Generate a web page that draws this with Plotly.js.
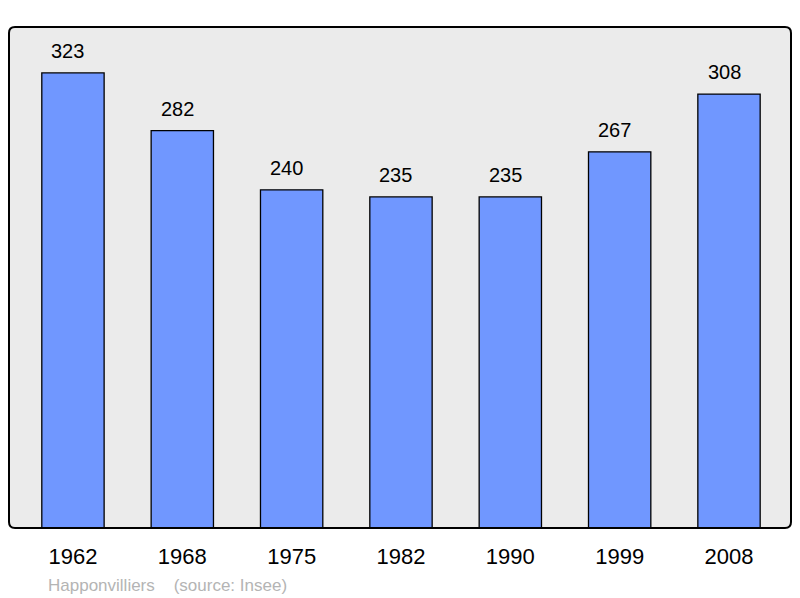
<!DOCTYPE html>
<html>
<head>
<meta charset="utf-8">
<script src="https://cdn.plot.ly/plotly-3.0.1.min.js"></script>
<style>
html,body{margin:0;padding:0;background:#ffffff;}
#chart{width:800px;height:598px;}
</style>
</head>
<body>
<div id="chart"></div>
<script>
var years = ["1962", "1968", "1975", "1982", "1990", "1999", "2008"];
var population = [323, 282, 240, 235, 235, 267, 308];
var caption = "Happonvilliers&nbsp;&nbsp;&nbsp;&nbsp;(source: Insee)";

var W = 800, H = 598;
var m = {l: 9, r: 9, t: 27, b: 70};
var pw = W - m.l - m.r, ph = H - m.t - m.b;
var rad = 6;
var rx = rad / pw, ry = rad / ph;
var roundRect = "M " + rx + " 0 L " + (1 - rx) + " 0 Q 1 0 1 " + ry +
  " L 1 " + (1 - ry) + " Q 1 1 " + (1 - rx) + " 1 L " + rx + " 1 Q 0 1 0 " + (1 - ry) +
  " L 0 " + ry + " Q 0 0 " + rx + " 0 Z";

var FONT = "Liberation Sans, Arial, sans-serif";

var trace = {
  type: "bar",
  x: years,
  y: population,
  width: 0.57,
  marker: {color: "#7097ff", line: {color: "#000000", width: 1.3}},
  hoverinfo: "none"
};

var annotations = years.map(function (yr, i) {
  return {
    x: i, y: population[i], xref: "x", yref: "y",
    text: String(population[i]), showarrow: false,
    xanchor: "center", yanchor: "bottom", yshift: 9, xshift: -5,
    font: {family: FONT, size: 20, color: "#000000"}
  };
});
annotations.push({
  x: 37 / pw, y: -(585 - 528) / ph, xref: "paper", yref: "paper",
  xanchor: "left", yanchor: "middle",
  text: caption, showarrow: false,
  font: {family: FONT, size: 17, color: "#b4b4b4"}
});

var layout = {
  width: W, height: H,
  margin: m,
  paper_bgcolor: "#ffffff",
  plot_bgcolor: "rgba(0,0,0,0)",
  showlegend: false,
  xaxis: {
    type: "category",
    range: [-0.585, 6.567],
    showgrid: false, zeroline: false, showline: false,
    ticks: "outside", ticklen: 9, tickcolor: "rgba(0,0,0,0)",
    tickfont: {family: FONT, size: 22, color: "#000000"},
    fixedrange: true
  },
  yaxis: {
    range: [0, 355.6],
    showgrid: false, zeroline: false, showline: false,
    showticklabels: false, ticks: "",
    fixedrange: true
  },
  shapes: [
    {type: "path", xref: "paper", yref: "paper", path: roundRect,
     fillcolor: "#ebebeb", line: {width: 0}, layer: "below"},
    {type: "path", xref: "paper", yref: "paper", path: roundRect,
     fillcolor: "rgba(0,0,0,0)", line: {color: "#000000", width: 2}, layer: "above"}
  ],
  annotations: annotations,
  font: {family: FONT}
};

Plotly.newPlot("chart", [trace], layout, {displayModeBar: false, staticPlot: true});
</script>
</body>
</html>
